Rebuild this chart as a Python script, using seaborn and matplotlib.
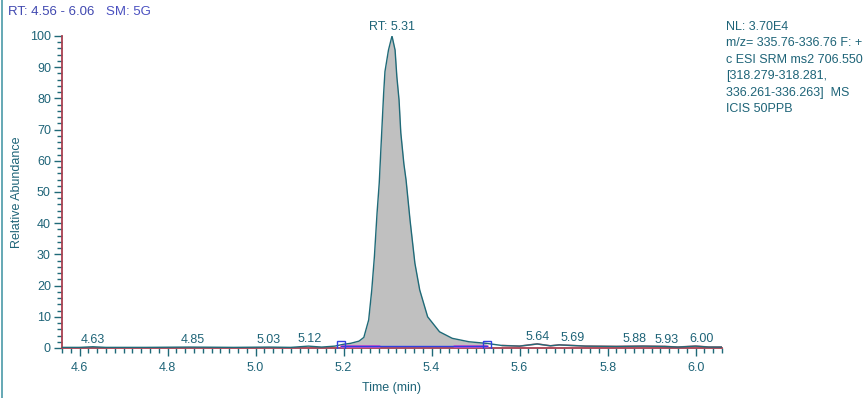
import numpy as np
import pandas as pd
import matplotlib
matplotlib.use("Agg")
import matplotlib.pyplot as plt
import seaborn as sns
from matplotlib.ticker import MultipleLocator

# ---- data ----
time_min = [4.56, 4.60, 4.63, 4.66, 4.75, 4.85, 4.95, 5.03, 5.08, 5.12, 5.15,
            5.18, 5.200, 5.216, 5.235, 5.246, 5.257, 5.264, 5.270, 5.276, 5.281,
            5.285, 5.291, 5.294, 5.302, 5.310, 5.317, 5.321, 5.326, 5.330, 5.337,
            5.342, 5.351, 5.362, 5.373, 5.391, 5.418, 5.447, 5.485, 5.524, 5.56,
            5.60, 5.64, 5.67, 5.69, 5.75, 5.82, 5.88, 5.93, 5.96, 6.00, 6.03, 6.06]
rel_abundance = [0.2, 0.2, 0.4, 0.2, 0.2, 0.3, 0.2, 0.3, 0.2, 0.6, 0.3,
                 0.6, 1.2, 1.5, 2.2, 3.4, 9.0, 18.6, 29.3, 43.2, 52.9,
                 64.5, 81.6, 88.6, 95.5, 100.0, 95.5, 87.0, 79.5, 69.0, 59.0,
                 53.8, 41.0, 27.2, 18.6, 10.0, 5.2, 3.1, 2.0, 1.5, 0.8,
                 0.6, 1.3, 0.7, 1.0, 0.6, 0.5, 0.6, 0.5, 0.3, 0.6, 0.3, 0.3]

peak_rt = [4.63, 4.85, 5.03, 5.12, 5.64, 5.69, 5.88, 5.93, 6.00]
peak_height = [0.4, 0.3, 0.3, 0.6, 1.3, 1.0, 0.6, 0.5, 0.6]
peak_labels = ["4.63", "4.85", "5.03", "5.12", "5.64", "5.69", "5.88", "5.93", "6.00"]
# horizontal nudges (points) used by the instrument software to avoid overlaps
label_nudge = [0, 2, 0, 1, 0, 10, -6, 1, 4]

main_rt = 5.31
main_label = "RT: 5.31"
integ_start, integ_end = 5.195, 5.525

x_ticks = [4.6, 4.8, 5.0, 5.2, 5.4, 5.6, 5.8, 6.0]
y_ticks = [0, 10, 20, 30, 40, 50, 60, 70, 80, 90, 100]

info_lines = ["NL: 3.70E4",
              "m/z= 335.76-336.76 F: +",
              "c ESI SRM ms2 706.550",
              "[318.279-318.281,",
              "336.261-336.263]  MS",
              "ICIS 50PPB"]

# ---- style ----
sns.set_style("white")
plt.rcParams["font.family"] = ["Liberation Sans", "DejaVu Sans"]

FS = 9
TXT = "#1e6478"
LINE = "#1f6a78"
AXC = "#a84050"

df = pd.DataFrame({"Time (min)": time_min, "Relative Abundance": rel_abundance})

fig = plt.figure(figsize=(8.64, 3.98), dpi=100)
ax = fig.add_axes([62 / 864, 1 - 348 / 398, (722 - 62) / 864, (348 - 36) / 398])

# filled peak area (integration window)
t = np.array(time_min)
v = np.array(rel_abundance)
mask = (t >= integ_start) & (t <= integ_end)
ax.fill_between(t[mask], 0.6, v[mask], color="#c0c0c0", lw=0, zorder=1)

sns.lineplot(data=df, x="Time (min)", y="Relative Abundance", ax=ax,
             color=LINE, lw=1.0, zorder=3, estimator=None)
rmask = t >= integ_end
ax.plot(t[rmask], v[rmask], color="#e06070", lw=1.2, zorder=2)

# integration baseline
ax.plot([integ_start, 5.28], [0.6, 0.6], color="#d050c8", lw=2.0, zorder=4)
ax.plot([5.45, integ_end], [0.6, 0.6], color="#d050c8", lw=2.0, zorder=4)
ax.plot([integ_start, integ_end], [0.6, 0.6], color="#3040e0", lw=1.0, zorder=5)
ax.plot([integ_start, integ_end], [1.0, 1.0], ls="none", marker="s", ms=6,
        mfc="none", mec="#3040e0", mew=1.0, zorder=6)

# labels
ax.annotate(main_label, (main_rt, 100), xytext=(0, 2), textcoords="offset points",
            ha="center", va="bottom", fontsize=FS, color=TXT, annotation_clip=False)
for rt, h, lab, dx in zip(peak_rt, peak_height, peak_labels, label_nudge):
    ax.annotate(lab, (rt, h), xytext=(dx, 0.5), textcoords="offset points",
                ha="center", va="bottom", fontsize=FS, color=TXT)

ax.set_xlim(4.56, 6.06)
ax.set_ylim(0, 100)
ax.set_xticks(x_ticks)
ax.set_xticklabels([f"{x:.1f}" for x in x_ticks])
ax.set_yticks(y_ticks)
ax.xaxis.set_minor_locator(MultipleLocator(0.02))
ax.yaxis.set_minor_locator(MultipleLocator(2))
ax.tick_params(axis="both", which="major", length=6, width=1, color=LINE,
               labelsize=FS, labelcolor=TXT, pad=2, direction="out")
ax.tick_params(axis="x", which="major", pad=4)
ax.tick_params(axis="both", which="minor", length=3.5, width=1, color=LINE,
               direction="out")
ax.tick_params(axis="x", which="both", bottom=True)
ax.tick_params(axis="y", which="both", left=True)

for s in ["top", "right"]:
    ax.spines[s].set_visible(False)
for s in ["left", "bottom"]:
    ax.spines[s].set_color(AXC)
    ax.spines[s].set_linewidth(1.3)

ax.set_xlabel("Time (min)", fontsize=FS, color=TXT, labelpad=6)
ax.set_ylabel("Relative Abundance", fontsize=FS, color=TXT, labelpad=5)

# header and info text
fig.text(8 / 864, 1 - 12 / 398, "RT: 4.56 - 6.06", fontsize=9.5, color="#4048b0",
         ha="left", va="center")
fig.text(106 / 864, 1 - 12 / 398, "SM: 5G", fontsize=9.5, color="#4a50c0",
         ha="left", va="center")
for i, line in enumerate(info_lines):
    fig.text(726 / 864, 1 - (27 + 16.4 * i) / 398, line, fontsize=FS, color=TXT,
             ha="left", va="center")

# left frame line
fig.add_artist(plt.Line2D([1.5 / 864, 1.5 / 864], [0, 1], color="#4a9aa8", lw=1.2))

fig.savefig("out.png", dpi=100)
